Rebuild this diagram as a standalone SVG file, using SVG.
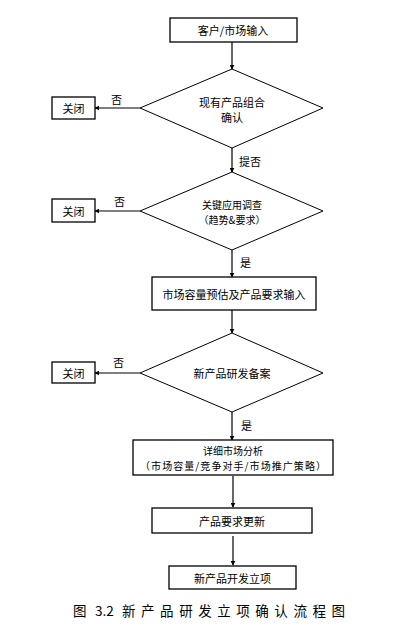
<svg xmlns="http://www.w3.org/2000/svg" width="414" height="638" viewBox="0 0 414 638">
<style>
.box{fill:#fff;stroke:#000;stroke-width:1.3}
.dia{fill:#fff;stroke:#000;stroke-width:1}
.t{font-family:"Noto Sans CJK SC","Noto Sans CJK JP",sans-serif;font-size:11px;fill:#000;text-anchor:middle;dominant-baseline:central}
.s{font-size:10px}
.lbl{font-family:"Noto Sans CJK SC","Noto Sans CJK JP",sans-serif;font-size:11px;fill:#000;dominant-baseline:central}
.c{stroke:#000;stroke-width:1.2;fill:none;marker-end:url(#ah)}
.cap{font-family:"Noto Sans CJK SC","Noto Sans CJK JP",sans-serif;font-size:13.5px;fill:#000;dominant-baseline:central}
</style>
<defs>
<marker id="ah" viewBox="0 0 8 8" refX="7" refY="4" markerWidth="5" markerHeight="5" markerUnits="userSpaceOnUse" orient="auto">
<path d="M0,0 L8,4 L0,8 Z" fill="#000"/>
</marker>
</defs>
<rect width="414" height="638" fill="#fff"/>
<g id="connectors">
<line class="c" x1="232" y1="42" x2="232" y2="69"/>
<line class="c" x1="140" y1="108" x2="95" y2="108"/>
<line class="c" x1="232" y1="148" x2="232" y2="172"/>
<line class="c" x1="140" y1="211" x2="95" y2="211"/>
<line class="c" x1="232" y1="250" x2="232" y2="277"/>
<line class="c" x1="232" y1="310" x2="232" y2="333"/>
<line class="c" x1="140" y1="373" x2="95" y2="373"/>
<line class="c" x1="232" y1="412" x2="232" y2="440"/>
<line class="c" x1="233" y1="476" x2="233" y2="507"/>
<line class="c" x1="233" y1="536" x2="233" y2="565"/>
<text class="lbl" x="111" y="99">否</text>
<text class="lbl" x="239" y="161">提否</text>
<text class="lbl" x="114" y="201">否</text>
<text class="lbl" x="240" y="262">是</text>
<text class="lbl" x="113" y="362">否</text>
<text class="lbl" x="241" y="425">是</text>
</g>
<g id="n1"><rect class="box" x="170" y="18" width="127" height="24"/><text class="t" x="233" y="30">客户/市场输入</text></g>
<g id="d1"><polygon class="dia" points="232,69 323,108 232,148 140,108"/><text class="t" x="232" y="102">现有产品组合</text><text class="t" x="232" y="117">确认</text></g>
<g id="c1"><rect class="box" x="52" y="97" width="43" height="22"/><text class="t" x="73.5" y="108">关闭</text></g>
<g id="d2"><polygon class="dia" points="232,172 323,211 232,250 140,211"/><text class="t s" x="232" y="204">关键应用调查</text><text class="t s" x="232" y="219">（趋势&amp;要求）</text></g>
<g id="c2"><rect class="box" x="52" y="199" width="43" height="23"/><text class="t" x="73.5" y="210.5">关闭</text></g>
<g id="n3"><rect class="box" x="152" y="277" width="164" height="33"/><text class="t" x="234" y="294">市场容量预估及产品要求输入</text></g>
<g id="d3"><polygon class="dia" points="232,333 323,373 232,412 140,373"/><text class="t" x="232" y="373">新产品研发备案</text></g>
<g id="c3"><rect class="box" x="52" y="362" width="43" height="21"/><text class="t" x="73.5" y="372.5">关闭</text></g>
<g id="n4"><rect class="box" x="133" y="440" width="200" height="35"/><text class="t s" x="233" y="450.5">详细市场分析</text><text class="t s" x="233" y="465.5" textLength="186" lengthAdjust="spacing">（市场容量/竞争对手/市场推广策略）</text></g>
<g id="n5"><rect class="box" x="152" y="508" width="160" height="25"/><text class="t" x="232" y="520.5">产品要求更新</text></g>
<g id="n6"><rect class="box" x="169" y="566" width="127" height="23"/><text class="t" x="232.5" y="577.5">新产品开发立项</text></g>
<text class="cap" x="73" y="610">图</text>
<text class="cap" x="95" y="610">3.2</text>
<text class="cap" x="122" y="610" textLength="223" lengthAdjust="spacing">新产品研发立项确认流程图</text>
</svg>
